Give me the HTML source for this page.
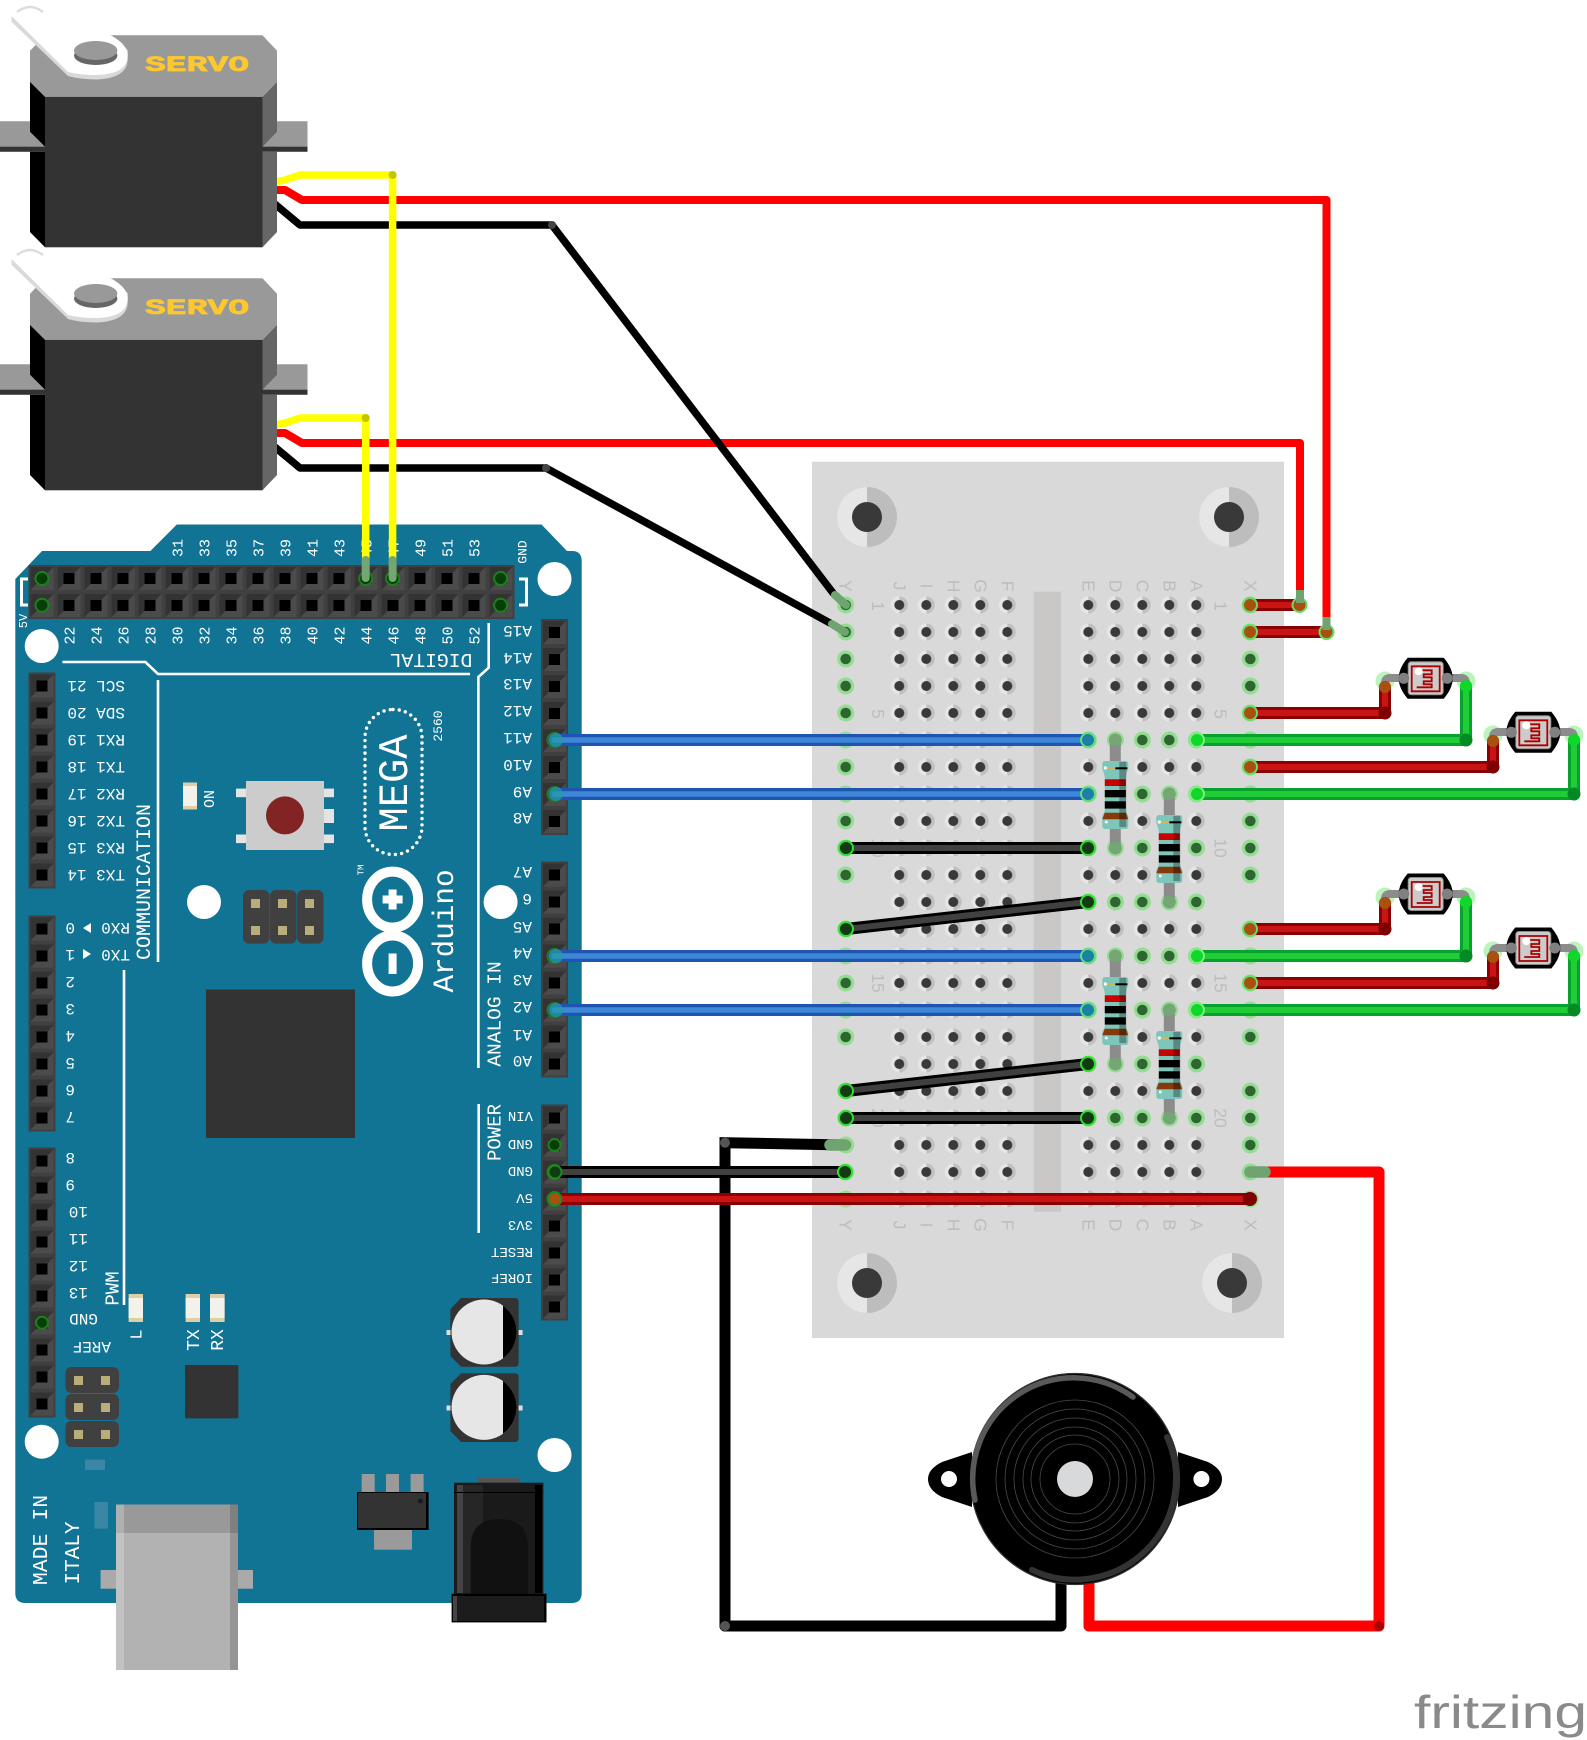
<!DOCTYPE html>
<html><head><meta charset="utf-8"><style>
html,body{margin:0;padding:0;background:#fff}svg{display:block}
.m text,text.m{font-family:"Liberation Mono",monospace;fill:#fff;dominant-baseline:central}
.a text{text-anchor:middle}
.b text{font-family:"Liberation Sans",sans-serif;fill:#bdbdbd;font-size:17.5px;text-anchor:middle;dominant-baseline:central}
</style></head><body>
<svg width="1587" height="1740" viewBox="0 0 1587 1740" xmlns="http://www.w3.org/2000/svg">
<defs>
<pattern id="hole" patternUnits="userSpaceOnUse" width="27" height="27">
<path d="M13.5 5a8.5 8.5 0 0 0 0 17z" fill="#e6e6e6"/><path d="M13.5 5a8.5 8.5 0 0 1 0 17z" fill="#c0c0c0"/><circle cx="13.5" cy="13.5" r="5" fill="#393939"/>
</pattern>
<pattern id="gh" patternUnits="userSpaceOnUse" width="27" height="27">
<circle cx="13.5" cy="13.5" r="8.5" fill="#93dd93"/><circle cx="13.5" cy="13.5" r="5.3" fill="#2f6530"/>
</pattern>
<pattern id="gh2" patternUnits="userSpaceOnUse" width="27" height="54">
<circle cx="13.5" cy="13.5" r="8.5" fill="#93dd93"/><circle cx="13.5" cy="13.5" r="5.3" fill="#2f6530"/>
</pattern>
<pattern id="pin" patternUnits="userSpaceOnUse" width="27" height="27">
<rect width="27" height="27" fill="#404040"/><rect x="2" y="2" width="23" height="23" fill="#4b4b4b"/><path d="M2 2H25L19 8H8V19L2 25Z" fill="#333"/><rect x="8" y="8" width="11" height="11" fill="#000"/>
</pattern>
<g id="servo">
<path d="M0 121.3H30V131.7L45 146.7V151.7H0Z" fill="#999"/><rect x="0" y="146.7" width="45" height="5" fill="#333"/>
<path d="M262.5 121.3H307.5V151.7H262.5Z" fill="#999"/><rect x="262.5" y="146.7" width="45" height="5" fill="#333"/>
<path d="M30 81.7L45 96.7V146.7L30 131.7ZM30 151.7H45V247.3L30 232Z" fill="#000"/>
<path d="M277 81.7L262.5 96.7V146.7L277 131.7ZM262.5 151.7H277V232L262.5 247.3Z" fill="#666"/>
<rect x="45" y="96.7" width="217.5" height="150.6" fill="#333"/>
<path d="M45 35.3H262.5L277 50.7V81.7L262.5 96.7H45L30 81.7V50.7Z" fill="#999"/>
<path d="M11.5 21.7L68 76Q80 79.5 97 79.5Q127.7 78 127.7 59V50L111.7 35.7H40L11.5 14Z" fill="#d9d9d9"/>
<path d="M11.5 14V16L68 72Q80 75 97 75Q127.7 74 127.7 55Q127.7 45 111.7 35.7L43 13Q36 5 30 5Q11.5 5 11.5 14Z" fill="#fff"/>
<path d="M17 12Q30 2 43 12" fill="none" stroke="#dcdcdc" stroke-width="2.4"/>
<ellipse cx="95.7" cy="55.5" rx="21.7" ry="9.5" fill="#666"/><ellipse cx="95.7" cy="50.5" rx="21.7" ry="9.5" fill="#999"/>
<text x="145" y="71" font-family="Liberation Mono,monospace" font-weight="bold" font-size="22.5" fill="#fdc82f" stroke="#fdc82f" stroke-width=".7" textLength="104" lengthAdjust="spacingAndGlyphs">SERVO</text>
</g>
<g id="res">
<path d="M-5.5 -21H5.5V87H-5.5Z" fill="#8c8c8c"/>
<circle cy="-21" r="6.5" fill="#76a676"/><circle cy="87" r="6.5" fill="#76a676"/>
<path d="M-10 0H10Q13 0 13 3V8Q11 12 10.5 17V50L13 55V65Q13 68 10 68H-10Q-13 68 -13 65V55L-10.5 50V17Q-11 12 -13 8V3Q-13 0 -10 0Z" fill="#7fc6ba"/>
<rect x="-10.5" y="18.3" width="21" height="6.7" fill="#c80000"/>
<rect x="-10.5" y="29" width="21" height="7.3" fill="#000"/>
<rect x="-10.5" y="40.3" width="21" height="7.3" fill="#000"/>
<path d="M-10.5 51.7H10.5L13 58.3H-13Z" fill="#86390a"/>
<rect x="-11" y="6.3" width="11" height="2" fill="#cdb85c"/><rect x="0" y="6.3" width="12" height="2" fill="#000"/>
<rect x="4" y="1" width="7" height="65" fill="#000" opacity=".3"/>
<circle cx="-10" cy="7" r="1.6" fill="#fff"/><circle cx="-9" cy="61" r="1.5" fill="#fff"/>
</g>
<g id="ldr">
<path d="M-18 -20.5H18Q27 -10 27 0Q27 10 18 20.5H-18Q-27 10 -27 0Q-27 -10 -18 -20.5Z" fill="#000"/>
<rect x="-17.5" y="-16.5" width="35" height="33" rx="3" fill="#cbcbcb" stroke="#8a8a8a" stroke-width="1"/>
<path d="M-14 -12H14V13H-14ZM-9 -8H6V-4H-2V-1H6V3H-2V6H6V9H-9" fill="none" stroke="#a00" stroke-width="1.8"/>
<circle cx="-7" cy="-7" r="4" fill="#fff"/>
<circle cx="-22" r="5.5" fill="#808080"/><circle cx="21.5" r="5.5" fill="#808080"/>
</g>
</defs>

<!-- breadboard -->
<rect x="812" y="461.7" width="472" height="876.3" fill="#d9d9d9"/>
<rect x="1033.7" y="591.7" width="27.3" height="620" fill="#c9c8c7"/>
<g>
<circle cx="867" cy="517" r="30" fill="#bdbdbd"/><path d="M867 487a30 30 0 0 0 0 60z" fill="#e6e6e6"/><circle cx="867" cy="517" r="15" fill="#393939"/>
<circle cx="1229" cy="517" r="30" fill="#bdbdbd"/><path d="M1229 487a30 30 0 0 0 0 60z" fill="#e6e6e6"/><circle cx="1229" cy="517" r="15" fill="#393939"/>
<circle cx="867" cy="1283" r="30" fill="#bdbdbd"/><path d="M867 1253a30 30 0 0 0 0 60z" fill="#e6e6e6"/><circle cx="867" cy="1283" r="15" fill="#393939"/>
<circle cx="1232" cy="1283" r="30" fill="#bdbdbd"/><path d="M1232 1253a30 30 0 0 0 0 60z" fill="#e6e6e6"/><circle cx="1232" cy="1283" r="15" fill="#393939"/>
</g>
<rect transform="translate(885.8 591.5)" width="135" height="621" fill="url(#hole)"/>
<rect transform="translate(1074.8 591.5)" width="135" height="621" fill="url(#hole)"/>
<rect transform="translate(832.2 591.5)" width="27" height="297" fill="url(#gh)"/>
<rect transform="translate(832.2 915.5)" width="27" height="135" fill="url(#gh)"/>
<rect transform="translate(832.2 1077.5)" width="27" height="135" fill="url(#gh)"/>
<rect transform="translate(1236.8 591.5)" width="27" height="297" fill="url(#gh)"/>
<rect transform="translate(1236.8 915.5)" width="27" height="135" fill="url(#gh)"/>
<rect transform="translate(1236.8 1077.5)" width="27" height="135" fill="url(#gh)"/>
<rect transform="translate(1074.8 726.5)" width="135" height="432" fill="url(#gh2)"/>
<g class="b">
<text transform="translate(845.7 586) rotate(90)">Y</text><text transform="translate(899.3 586) rotate(90)">J</text><text transform="translate(926.3 586) rotate(90)">I</text><text transform="translate(953.3 586) rotate(90)">H</text><text transform="translate(980.3 586) rotate(90)">G</text><text transform="translate(1007.3 586) rotate(90)">F</text><text transform="translate(1088.3 586) rotate(90)">E</text><text transform="translate(1115.3 586) rotate(90)">D</text><text transform="translate(1142.3 586) rotate(90)">C</text><text transform="translate(1169.3 586) rotate(90)">B</text><text transform="translate(1196.3 586) rotate(90)">A</text><text transform="translate(1250.3 586) rotate(90)">X</text>
<text transform="translate(845.7 1225) rotate(90)">Y</text><text transform="translate(899.3 1225) rotate(90)">J</text><text transform="translate(926.3 1225) rotate(90)">I</text><text transform="translate(953.3 1225) rotate(90)">H</text><text transform="translate(980.3 1225) rotate(90)">G</text><text transform="translate(1007.3 1225) rotate(90)">F</text><text transform="translate(1088.3 1225) rotate(90)">E</text><text transform="translate(1115.3 1225) rotate(90)">D</text><text transform="translate(1142.3 1225) rotate(90)">C</text><text transform="translate(1169.3 1225) rotate(90)">B</text><text transform="translate(1196.3 1225) rotate(90)">A</text><text transform="translate(1250.3 1225) rotate(90)">X</text>
<text transform="translate(878 606) rotate(90)">1</text><text transform="translate(878 714) rotate(90)">5</text><text transform="translate(878 848) rotate(90)">10</text><text transform="translate(878 983) rotate(90)">15</text><text transform="translate(878 1118) rotate(90)">20</text>
<text transform="translate(1220.7 606) rotate(90)">1</text><text transform="translate(1220.7 714) rotate(90)">5</text><text transform="translate(1220.7 848) rotate(90)">10</text><text transform="translate(1220.7 983) rotate(90)">15</text><text transform="translate(1220.7 1118) rotate(90)">20</text>
</g>

<!-- arduino -->
<path d="M15.3 579L42 551H150.4L176.8 524.5H541.5L567 551H572Q581.7 551 581.7 561V1593Q581.7 1603 571.7 1603H25.3Q15.3 1603 15.3 1593Z" fill="#127495"/>
<g fill="#fff"><circle cx="554.5" cy="579" r="17"/><circle cx="41.7" cy="646" r="17"/><circle cx="204" cy="902" r="17"/><circle cx="500.6" cy="902" r="17"/><circle cx="41.7" cy="1441.7" r="17"/><circle cx="554.5" cy="1455" r="17"/></g>
<rect transform="translate(28.5 565)" width="486" height="54" fill="url(#pin)"/>
<rect transform="translate(28.5 672.5)" width="27" height="216" fill="url(#pin)"/>
<rect transform="translate(28.5 915.5)" width="27" height="216" fill="url(#pin)"/>
<rect transform="translate(28.5 1147.5)" width="27" height="270" fill="url(#pin)"/>
<rect transform="translate(541 619)" width="27" height="216" fill="url(#pin)"/>
<rect transform="translate(541 861.5)" width="27" height="216" fill="url(#pin)"/>
<rect transform="translate(541 1104.5)" width="27" height="216" fill="url(#pin)"/>
<g fill="#063f06" stroke="#1f7f1f" stroke-width="2">
<circle cx="42" cy="578.5" r="6.5"/><circle cx="42" cy="605.3" r="6.5"/><circle cx="500.6" cy="578.5" r="6.5"/><circle cx="500.6" cy="605.3" r="6.5"/><circle cx="365.7" cy="578.5" r="6.5"/><circle cx="392.6" cy="578.5" r="6.5"/><circle cx="42" cy="1322.7" r="6"/><circle cx="554.5" cy="740" r="7"/><circle cx="554.5" cy="794" r="7"/><circle cx="554.5" cy="956" r="7"/><circle cx="554.5" cy="1010" r="7"/><circle cx="554.5" cy="1145" r="6"/><circle cx="554.5" cy="1172" r="7"/><circle cx="554.5" cy="1199" r="7"/></g>
<g fill="none" stroke="#fff" stroke-width="2.6">
<path d="M62.4 662H145.4L158 674H470"/><path d="M488.7 623V667.7L478.4 677V1068"/><path d="M158 680V962"/><path d="M124 970V1305"/><path d="M478.7 1104V1233"/>
<path d="M28 579H21.5V605H28M519 579H526.5V605H519" stroke-width="3"/>
</g>
<g class="m a" font-size="15" transform="translate(2 0)">
<text transform="translate(177 548) rotate(-90)">31</text><text transform="translate(204 548) rotate(-90)">33</text><text transform="translate(231 548) rotate(-90)">35</text><text transform="translate(258 548) rotate(-90)">37</text><text transform="translate(285 548) rotate(-90)">39</text><text transform="translate(312 548) rotate(-90)">41</text><text transform="translate(339 548) rotate(-90)">43</text><text transform="translate(366 548) rotate(-90)">45</text><text transform="translate(393 548) rotate(-90)">47</text><text transform="translate(420 548) rotate(-90)">49</text><text transform="translate(447 548) rotate(-90)">51</text><text transform="translate(474 548) rotate(-90)">53</text>
<text transform="translate(521 552) rotate(-90)" font-size="13">GND</text><text transform="translate(22 621) rotate(-90)" font-size="12">5V</text>
<text transform="translate(69 635.5) rotate(-90)">22</text><text transform="translate(96 635.5) rotate(-90)">24</text><text transform="translate(123 635.5) rotate(-90)">26</text><text transform="translate(150 635.5) rotate(-90)">28</text><text transform="translate(177 635.5) rotate(-90)">30</text><text transform="translate(204 635.5) rotate(-90)">32</text><text transform="translate(231 635.5) rotate(-90)">34</text><text transform="translate(258 635.5) rotate(-90)">36</text><text transform="translate(285 635.5) rotate(-90)">38</text><text transform="translate(312 635.5) rotate(-90)">40</text><text transform="translate(339 635.5) rotate(-90)">42</text><text transform="translate(366 635.5) rotate(-90)">44</text><text transform="translate(393 635.5) rotate(-90)">46</text><text transform="translate(420 635.5) rotate(-90)">48</text><text transform="translate(447 635.5) rotate(-90)">50</text><text transform="translate(474 635.5) rotate(-90)">52</text>
</g>
<g class="m" font-size="16">
<text transform="translate(125 685) rotate(180)">SCL 21</text><text transform="translate(125 712) rotate(180)">SDA 20</text><text transform="translate(125 739) rotate(180)">RX1 19</text><text transform="translate(125 766) rotate(180)">TX1 18</text><text transform="translate(125 793) rotate(180)">RX2 17</text><text transform="translate(125 820) rotate(180)">TX2 16</text><text transform="translate(125 847) rotate(180)">RX3 15</text><text transform="translate(125 874) rotate(180)">TX3 14</text>
<text transform="translate(130 927) rotate(180)">RX0</text><text transform="translate(130 954) rotate(180)">TX0</text>
<text transform="translate(75 927) rotate(180)">0</text><text transform="translate(75 954) rotate(180)">1</text><text transform="translate(75 981) rotate(180)">2</text><text transform="translate(75 1008) rotate(180)">3</text><text transform="translate(75 1035) rotate(180)">4</text><text transform="translate(75 1062) rotate(180)">5</text><text transform="translate(75 1089) rotate(180)">6</text><text transform="translate(75 1116) rotate(180)">7</text>
<text transform="translate(75 1157) rotate(180)">8</text><text transform="translate(75 1184) rotate(180)">9</text><text transform="translate(88 1211) rotate(180)">10</text><text transform="translate(88 1238) rotate(180)">11</text><text transform="translate(88 1265) rotate(180)">12</text><text transform="translate(88 1292) rotate(180)">13</text><text transform="translate(98 1318) rotate(180)">GND</text><text transform="translate(111 1346) rotate(180)">AREF</text>
<text transform="translate(532 630) rotate(180)">A15</text><text transform="translate(532 657) rotate(180)">A14</text><text transform="translate(532 683) rotate(180)">A13</text><text transform="translate(532 710) rotate(180)">A12</text><text transform="translate(532 737) rotate(180)">A11</text><text transform="translate(532 764) rotate(180)">A10</text><text transform="translate(532 791) rotate(180)">A9</text><text transform="translate(532 817) rotate(180)">A8</text>
<text transform="translate(532 871) rotate(180)">A7</text><text transform="translate(532 898) rotate(180)">6</text><text transform="translate(532 926) rotate(180)">A5</text><text transform="translate(532 952) rotate(180)">A4</text><text transform="translate(532 979) rotate(180)">A3</text><text transform="translate(532 1006) rotate(180)">A2</text><text transform="translate(532 1034) rotate(180)">A1</text><text transform="translate(532 1060) rotate(180)">A0</text>
<text transform="translate(533 1115) rotate(180)" font-size="14">VIN</text><text transform="translate(533 1143) rotate(180)" font-size="14">GND</text><text transform="translate(533 1170) rotate(180)" font-size="14">GND</text><text transform="translate(533 1197) rotate(180)" font-size="14">5V</text><text transform="translate(533 1224) rotate(180)" font-size="14">3V3</text><text transform="translate(533 1251) rotate(180)" font-size="14">RESET</text><text transform="translate(533 1277) rotate(180)" font-size="14">IOREF</text>
</g>
<path d="M91 923V933L83 928ZM83 949V959L91 954Z" fill="#fff"/>
<g class="m a">
<text transform="translate(431 659) rotate(180)" font-size="19.7">DIGITAL</text>
<text transform="translate(145.5 882) rotate(-90)" font-size="20">COMMUNICATION</text>
<text transform="translate(495.7 1014) rotate(-90)" font-size="19.5">ANALOG IN</text>
<text transform="translate(495.7 1132.5) rotate(-90)" font-size="19">POWER</text>
<text transform="translate(113.5 1288.5) rotate(-90)" font-size="19">PWM</text>
<text transform="translate(138 1334.5) rotate(-90)" font-size="17">L</text>
<text transform="translate(195 1340) rotate(-90)" font-size="18">TX</text>
<text transform="translate(219 1340) rotate(-90)" font-size="18">RX</text>
<text transform="translate(210.6 799) rotate(-90)" font-size="15">ON</text>
<text transform="translate(42 1540) rotate(-90)" font-size="21.5">MADE IN</text>
<text transform="translate(74.7 1553) rotate(-90)" font-size="21">ITALY</text>
<text transform="translate(396 783) rotate(-90)" font-size="42" textLength="97" lengthAdjust="spacingAndGlyphs">MEGA</text>
<text transform="translate(438.4 726) rotate(-90)" font-size="13">2560</text>
<text transform="translate(361.5 870) rotate(-90)" font-size="9">TM</text>
<text transform="translate(445.5 931) rotate(-90)" font-size="29.3">Arduino</text>
</g>
<rect x="365" y="709.5" width="57" height="145" rx="28" fill="none" stroke="#fff" stroke-width="3.4" stroke-linecap="round" stroke-dasharray="0 6.3"/>
<g fill="none" stroke="#fff" stroke-width="10"><ellipse cx="392.6" cy="899.6" rx="25.5" ry="28"/><ellipse cx="392.6" cy="963.5" rx="25.5" ry="28"/></g>
<path d="M382.6 895.5H388.6V889.5H396.6V895.5H402.6V903.5H396.6V909.5H388.6V903.5H382.6ZM388.6 953.5H396.6V974H388.6Z" fill="#fff"/>
<!-- reset -->
<g fill="#e4e4e4"><rect x="236" y="788.6" width="12" height="8.6"/><rect x="236" y="834.5" width="12" height="8.6"/><rect x="322" y="788.6" width="12" height="8.6"/><rect x="322" y="809" width="12" height="14"/><rect x="322" y="834.5" width="12" height="8.6"/></g>
<rect x="246" y="781" width="78" height="69" fill="#ccc"/>
<circle cx="285" cy="815.4" r="19" fill="#832424"/>
<!-- LEDs -->
<g>
<rect x="183" y="782.5" width="14" height="27" fill="#ded0a4"/><rect x="183" y="786" width="14" height="20" fill="#f2f2ea"/>
<rect x="128.6" y="1294" width="14.4" height="28" fill="#ded0a4"/><rect x="128.6" y="1298" width="14.4" height="20" fill="#f2f2ea"/>
<rect x="185.6" y="1294" width="14.4" height="28" fill="#ded0a4"/><rect x="185.6" y="1298" width="14.4" height="20" fill="#f2f2ea"/>
<rect x="210" y="1294" width="14.6" height="28" fill="#ded0a4"/><rect x="210" y="1298" width="14.6" height="20" fill="#f2f2ea"/>
</g>
<!-- ICSP -->
<g fill="#404040"><rect x="243" y="890" width="26.5" height="53.6" rx="6"/><rect x="270" y="890" width="26.5" height="53.6" rx="6"/><rect x="297" y="890" width="26.5" height="53.6" rx="6"/>
<rect x="65.4" y="1367" width="53.6" height="26" rx="6"/><rect x="65.4" y="1394" width="53.6" height="26" rx="6"/><rect x="65.4" y="1421" width="53.6" height="26" rx="6"/></g>
<g fill="#b9ad7b"><rect x="251" y="899" width="9" height="9"/><rect x="278" y="899" width="9" height="9"/><rect x="305" y="899" width="9" height="9"/><rect x="251" y="926" width="9" height="9"/><rect x="278" y="926" width="9" height="9"/><rect x="305" y="926" width="9" height="9"/>
<rect x="74" y="1376" width="9" height="9"/><rect x="101" y="1376" width="9" height="9"/><rect x="74" y="1403" width="9" height="9"/><rect x="101" y="1403" width="9" height="9"/><rect x="74" y="1430" width="9" height="9"/><rect x="101" y="1430" width="9" height="9"/></g>
<rect x="206" y="989.5" width="149" height="148.5" fill="#333"/>
<rect x="185" y="1365" width="53.4" height="53.4" fill="#333"/>
<rect x="85" y="1459.7" width="20" height="10.3" fill="#3a87a5"/><rect x="94.5" y="1502" width="13.5" height="26.6" fill="#3a87a5"/>
<!-- USB -->
<rect x="100.6" y="1570" width="152.4" height="18.7" fill="#aaa"/>
<rect x="116" y="1504.5" width="122" height="165.5" fill="#b2b2b2"/><rect x="116" y="1504.5" width="122" height="28.5" fill="#999"/>
<rect x="116" y="1533" width="8" height="137" fill="#c2c2c2"/><rect x="116" y="1504.5" width="8" height="28.5" fill="#b0b0b0"/>
<rect x="230" y="1533" width="8" height="137" fill="#959595"/><rect x="230" y="1504.5" width="8" height="28.5" fill="#808080"/>
<!-- regulator -->
<g fill="#9a9a9a"><rect x="361.7" y="1474" width="13" height="18"/><rect x="386" y="1474" width="13" height="18"/><rect x="410.6" y="1474" width="13" height="18"/><rect x="374" y="1530" width="38" height="19.7"/></g>
<rect x="357" y="1492" width="71.6" height="38" fill="#000"/><rect x="358" y="1493" width="68" height="35" fill="#333"/>
<circle cx="420.5" cy="1501" r="2.5" fill="#1a1a1a"/>
<!-- caps -->
<g>
<path d="M461 1298H515Q518.6 1298 518.6 1302V1363Q518.6 1366.7 515 1366.7H461L450.4 1356V1309Z" fill="#333"/>
<rect x="446.5" y="1330" width="4" height="5" fill="#ddd"/><rect x="518.6" y="1330" width="4" height="5" fill="#ddd"/>
<circle cx="484" cy="1332" r="32.5" fill="#e6e6e6"/><path d="M503 1305.6A32.5 32.5 0 0 1 503 1358.4Z" fill="#000"/>
<path d="M461 1373.4H515Q518.6 1373.4 518.6 1377V1438Q518.6 1442 515 1442H461L450.4 1431V1384Z" fill="#333"/>
<rect x="446.5" y="1405.5" width="4" height="5" fill="#ddd"/><rect x="518.6" y="1405.5" width="4" height="5" fill="#ddd"/>
<circle cx="484" cy="1407.4" r="32.5" fill="#e6e6e6"/><path d="M503 1381A32.5 32.5 0 0 1 503 1433.8Z" fill="#000"/>
</g>
<!-- jack -->
<rect x="478" y="1478" width="42" height="5" fill="#555"/>
<rect x="454" y="1482.7" width="89.4" height="111" fill="#1a1a1a"/>
<rect x="457" y="1485" width="6" height="108" fill="#444"/><rect x="535" y="1485" width="7" height="108" fill="#000"/><rect x="463" y="1485" width="20" height="108" fill="#262626"/>
<rect x="454" y="1492" width="89" height="1" fill="#000"/>
<path d="M470.7 1593.7V1548Q470.7 1519 499.5 1519Q528 1519 528 1548V1593.7Z" fill="#111"/>
<rect x="451.6" y="1593.7" width="94.9" height="28.7" fill="#000"/><rect x="454" y="1596" width="90" height="25" fill="#1c1c1c"/><rect x="453" y="1596" width="4" height="25" fill="#444"/>

<!-- buzzer wires (under the buzzer and under the jumpers) -->
<g fill="none" stroke-linecap="round" stroke-linejoin="round">
<path d="M725 1626V1142.7L845 1145" stroke="#000" stroke-width="11" stroke-linejoin="miter"/>
<path d="M725 1626H1061V1570" stroke="#000" stroke-width="11"/>
<path d="M1089 1570V1626H1379V1172H1258" stroke="#f00" stroke-width="11"/>
</g>
<circle cx="725" cy="1142.7" r="5" fill="#555"/>
<circle cx="725" cy="1626" r="5" fill="#555"/><circle cx="1379" cy="1626" r="5" fill="#a00"/>
<!-- buzzer -->
<path d="M972 1452L942 1462Q928 1469 928 1479Q928 1490 942 1497L972 1507ZM1178 1452L1208 1462Q1222 1469 1222 1479Q1222 1490 1208 1497L1178 1507Z" fill="#000"/>
<ellipse cx="949" cy="1479" rx="8" ry="8" fill="#fff"/><ellipse cx="1201.4" cy="1479" rx="8" ry="8" fill="#fff"/>
<ellipse cx="1075" cy="1479" rx="105" ry="106" fill="#000"/>
<g fill="none" stroke-linecap="round">
<ellipse cx="1075" cy="1479" rx="104.5" ry="105.5" stroke="#333" stroke-width="1.2"/>
<path d="M975 1500A101 101 0 0 1 1133 1397" stroke="#58595b" stroke-width="5.5"/>
<path d="M1167 1437A101 101 0 0 1 1032 1570" stroke="#333" stroke-width="6"/>
<g stroke="#4a4a4a" stroke-width=".8"><circle cx="1075" cy="1479" r="79"/><circle cx="1075" cy="1479" r="70"/><circle cx="1075" cy="1479" r="61"/><circle cx="1075" cy="1479" r="52"/><circle cx="1075" cy="1479" r="44"/><circle cx="1075" cy="1479" r="35"/></g>
</g>
<circle cx="1075" cy="1479" r="18" fill="#d8d9db"/>

<!-- resistors -->
<use href="#res" x="1115.3" y="761"/><use href="#res" x="1169.3" y="815"/><use href="#res" x="1115.3" y="977"/><use href="#res" x="1169.3" y="1031"/>

<!-- LDRs leads and parts -->
<g fill="#a6efa6" opacity=".75"><circle cx="1385" cy="681" r="9.5"/><circle cx="1466" cy="681" r="9.5"/><circle cx="1493" cy="735" r="9.5"/><circle cx="1574" cy="735" r="9.5"/><circle cx="1385" cy="897" r="9.5"/><circle cx="1466" cy="897" r="9.5"/><circle cx="1493" cy="951" r="9.5"/><circle cx="1574" cy="951" r="9.5"/></g>
<g fill="none" stroke="#8c8c8c" stroke-width="8" stroke-linecap="round">
<path d="M1385 687V683Q1385 678 1390 678H1461Q1466 678 1466 683V687"/>
<path d="M1493 741V737Q1493 732 1498 732H1569Q1574 732 1574 737V741"/>
<path d="M1385 903V899Q1385 894 1390 894H1461Q1466 894 1466 899V903"/>
<path d="M1493 957V953Q1493 948 1498 948H1569Q1574 948 1574 953V957"/>
</g>
<use href="#ldr" x="1425.7" y="678.3"/><use href="#ldr" x="1533.3" y="732.3"/><use href="#ldr" x="1425.7" y="894"/><use href="#ldr" x="1533.3" y="948"/>

<!-- jumper wires -->
<g fill="none" stroke-linecap="round" stroke-linejoin="round">
<g stroke="#1e55b0" stroke-width="12"><path d="M554.5 740H1088M554.5 794H1088M554.5 956H1088M554.5 1010H1088"/></g>
<g stroke="#3f88d8" stroke-width="5.5"><path d="M554.5 740H1088M554.5 794H1088M554.5 956H1088M554.5 1010H1088"/></g>
<g stroke="#000" stroke-width="12"><path d="M846 848H1088M846 929L1088 902M846 1091L1088 1064M846 1118H1088M554.5 1172H845"/></g>
<g stroke="#404040" stroke-width="6"><path d="M846 848H1088M846 929L1088 902M846 1091L1088 1064M846 1118H1088M554.5 1172H845"/></g>
<g stroke="#8b0000" stroke-width="12"><path d="M1250 605H1299.5M1250 632H1326.5M1250 713H1385V687M1250 767H1493V741M1250 929H1385V903M1250 983H1493V957M554.5 1199H1250"/></g>
<g stroke="#c81414" stroke-width="6"><path d="M1250 605H1299.5M1250 632H1326.5M1250 713H1385V687M1250 767H1493V741M1250 929H1385V903M1250 983H1493V957M554.5 1199H1250"/></g>
<g stroke="#05a32e" stroke-width="12"><path d="M1196.5 740H1466V686M1196.5 794H1574V740M1196.5 956H1466V902M1196.5 1010H1574V956"/></g>
<g stroke="#22cc36" stroke-width="6"><path d="M1196.5 740H1466V686M1196.5 794H1574V740M1196.5 956H1466V902M1196.5 1010H1574V956"/></g>
<path d="M830 1145H845M1250 1172H1265" stroke="#6fa36f" stroke-width="11.5"/>
</g>
<!-- tips -->
<g>
<g fill="#1d7fa6" stroke="#5fe07a" stroke-width="2"><circle cx="1088" cy="740" r="7"/><circle cx="1088" cy="794" r="7"/><circle cx="1088" cy="956" r="7"/><circle cx="1088" cy="1010" r="7"/></g>
<g fill="#239ea5" opacity=".7"><circle cx="556" cy="740" r="7"/><circle cx="556" cy="794" r="7"/><circle cx="556" cy="956" r="7"/><circle cx="556" cy="1010" r="7"/></g>
<g fill="#143a14" stroke="#2ee02e" stroke-width="2"><circle cx="846" cy="848" r="7"/><circle cx="1088" cy="848" r="7"/><circle cx="846" cy="929" r="7"/><circle cx="1088" cy="902" r="7"/><circle cx="846" cy="1091" r="7"/><circle cx="1088" cy="1064" r="7"/><circle cx="846" cy="1118" r="7"/><circle cx="1088" cy="1118" r="7"/><circle cx="845" cy="1172" r="7"/></g>
<circle cx="555" cy="1172" r="6.5" fill="#0e3d10" stroke="#1f8a1f" stroke-width="2"/>
<circle cx="555" cy="1199" r="6.5" fill="#a8500f" stroke="#1f8a1f" stroke-width="2"/>
<g fill="#a8500f" stroke="#66dd66" stroke-width="2"><circle cx="1250" cy="605" r="7"/><circle cx="1250" cy="632" r="7"/><circle cx="1250" cy="713" r="7"/><circle cx="1250" cy="767" r="7"/><circle cx="1250" cy="929" r="7"/><circle cx="1250" cy="983" r="7"/><circle cx="1299.5" cy="605" r="7"/><circle cx="1326.5" cy="632" r="7"/></g>
<g fill="#a8500f"><circle cx="1385" cy="687" r="6"/><circle cx="1493" cy="741" r="6"/><circle cx="1385" cy="903" r="6"/><circle cx="1493" cy="957" r="6"/></g>
<g fill="#7f0000"><circle cx="1385" cy="713" r="6.5"/><circle cx="1493" cy="767" r="6.5"/><circle cx="1385" cy="929" r="6.5"/><circle cx="1493" cy="983" r="6.5"/><circle cx="1250" cy="1199" r="7"/></g>
<g fill="#10d82a" stroke="#80ee80" stroke-width="2"><circle cx="1197" cy="740" r="7"/><circle cx="1197" cy="794" r="7"/><circle cx="1197" cy="956" r="7"/><circle cx="1197" cy="1010" r="7"/></g>
<g fill="#10d82a"><circle cx="1466" cy="686" r="6"/><circle cx="1574" cy="740" r="6"/><circle cx="1466" cy="902" r="6"/><circle cx="1574" cy="956" r="6"/></g>
<g fill="#038a25"><circle cx="1466" cy="740" r="6.5"/><circle cx="1574" cy="794" r="6.5"/><circle cx="1466" cy="956" r="6.5"/><circle cx="1574" cy="1010" r="6.5"/></g>
</g>
<!-- servo wires -->
<g fill="none" stroke-linecap="round" stroke-linejoin="round">
<path d="M270 190H285L302 200H1326.5V618" stroke="#f00" stroke-width="8"/>
<path d="M270 433H285L302 443H1300V590" stroke="#f00" stroke-width="8"/>
<path d="M270 200L300 225H552L833 593" stroke="#000" stroke-width="7.5"/>
<path d="M270 443L300 468H546L830 623" stroke="#000" stroke-width="7.5"/>
<path d="M835 595L846 605M832 624L845 632" stroke="#6fa36f" stroke-width="8"/>
<path d="M1300 590V603M1326.5 617V630" stroke="#6fa36f" stroke-width="8" stroke-linecap="butt"/>
<path d="M270 183L285 180L300 175H392.6V560" stroke="#ff0" stroke-width="7.5"/>
<path d="M270 426L285 423L300 418H365.7V560" stroke="#ff0" stroke-width="7.5"/>
<path d="M392.6 560V578M365.7 560V578" stroke="#74a674" stroke-width="8"/>
</g>
<g><circle cx="392.6" cy="175" r="4" fill="#c4c400"/><circle cx="365.7" cy="418" r="4" fill="#c4c400"/><circle cx="552" cy="225" r="4" fill="#444"/><circle cx="546" cy="468" r="4" fill="#444"/></g>

<!-- servos (on top of their wires) -->
<use href="#servo"/><use href="#servo" y="243"/>

<text x="1414" y="1728" font-family="Liberation Sans,sans-serif" font-size="46" fill="#8a8a8a" textLength="173" lengthAdjust="spacingAndGlyphs">fritzing</text>
</svg>
</body></html>
